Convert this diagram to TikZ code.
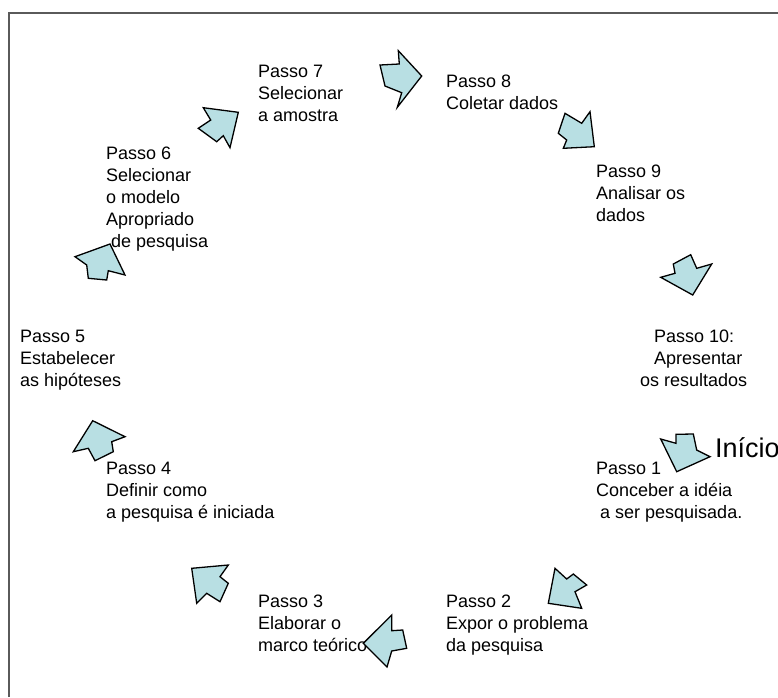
\documentclass[tikz,border=0pt]{standalone}
\usepackage{fontspec}
\setmainfont{Liberation Sans}
\begin{document}
\begin{tikzpicture}[x=1pt,y=-1pt,
  steptext/.style={anchor=north west,align=left,inner sep=0pt,
    font=\fontsize{18}{22}\selectfont},
  blockarrow/.style={draw=black,line width=1.3pt,line join=miter,fill=arrowfill}]
\definecolor{arrowfill}{RGB}{184,223,227}
\definecolor{framegray}{RGB}{90,90,90}
\useasboundingbox (0,0) rectangle (778,697);
% frame
\draw[framegray,line width=1.2pt] (9,697) -- (9,13) -- (778,13);

% step labels
\node[steptext] (s7) at (258,65) {Passo 7\\Selecionar\\a amostra};
\node[steptext] (s8) at (446,75) {Passo 8\\Coletar dados};
\node[steptext] (s9) at (596,165) {Passo 9\\Analisar os\\dados};
\node[steptext] (s10) at (640,330) {\hspace*{14pt}Passo 10:\\\hspace*{14pt}Apresentar\\os resultados};
\node[steptext] (s1) at (596,462) {Passo 1\\Conceber a idéia\\\hspace*{4pt}a ser pesquisada.};
\node[steptext] (s2) at (446,595) {Passo 2\\Expor o problema\\da pesquisa};
\node[steptext] (s3) at (258,595) {Passo 3\\Elaborar o\\marco teórico};
\node[steptext] (s4) at (106,462) {Passo 4\\Definir como\\a pesquisa é iniciada};
\node[steptext] (s5) at (20,330) {Passo 5\\Estabelecer\\as hipóteses};
\node[steptext] (s6) at (106,147) {Passo 6\\Selecionar\\o modelo\\Apropriado\\\hspace*{5pt}de pesquisa};
\node[anchor=base west,inner sep=0pt,font=\fontsize{27}{32}\selectfont] (inicio) at (715,457) {Início};

% block arrows between the steps
\draw[blockarrow] (380,65) -- (399.3,64) -- (398.3,50.7) -- (421.7,76) -- (397.3,107.3) -- (401.7,92.7) -- (385,86) -- cycle;
\draw[blockarrow] (565,113.3) -- (581.7,123.3) -- (590,111.7) -- (594.3,146.7) -- (563.3,148.3) -- (566.7,140) -- (558.3,133.3) -- cycle;
\draw[blockarrow] (673.3,264) -- (690.7,254.7) -- (696.7,268.3) -- (711.7,264) -- (692.7,295) -- (660.7,277.3) -- (675,273.3) -- cycle;
\draw[blockarrow] (660.7,439) -- (676,443.3) -- (676,434.3) -- (693.3,434) -- (696.7,450) -- (710,456.7) -- (676.7,471.7) -- cycle;
\draw[blockarrow] (555,568.3) -- (566.7,579) -- (573.3,574) -- (586.7,585) -- (575,591.7) -- (581.7,608.3) -- (548.3,603.3) -- cycle;
\draw[blockarrow] (363.3,643.3) -- (391.7,615) -- (391.7,630.7) -- (402.7,630) -- (406.7,648.3) -- (391.7,651) -- (387,667) -- cycle;
\draw[blockarrow] (191.7,568.3) -- (228.3,565) -- (220,576.7) -- (228.3,583.3) -- (220,601.7) -- (206.7,593.3) -- (196.7,603.3) -- cycle;
\draw[blockarrow] (92.7,420.7) -- (125,436.7) -- (111.7,441.7) -- (113.3,451.7) -- (95,460.7) -- (88.3,448.3) -- (73.3,451.7) -- cycle;
\draw[blockarrow] (75,256.7) -- (110,244) -- (125,275) -- (108.3,270.7) -- (106.7,280) -- (88.3,278.3) -- (86.7,265) -- cycle;
\draw[blockarrow] (203.3,107.7) -- (238.3,112.3) -- (230,147.7) -- (223.3,135.7) -- (216.7,141.7) -- (198.3,128.3) -- (210.7,120) -- cycle;
\end{tikzpicture}
\end{document}
